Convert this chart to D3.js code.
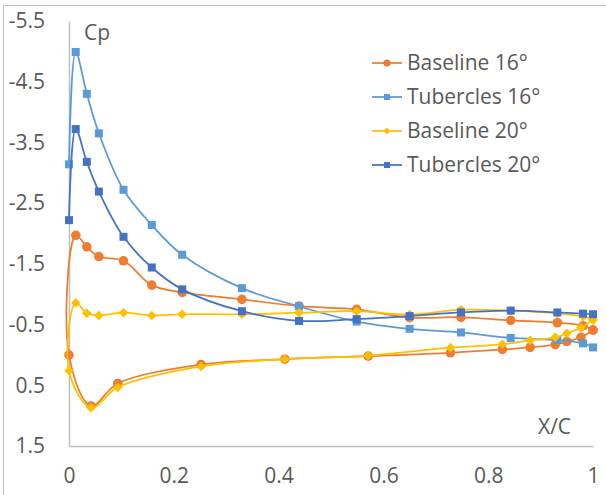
<!DOCTYPE html>
<html>
<head>
<meta charset="utf-8">
<script src="https://cdn.jsdelivr.net/npm/d3@7"></script>
<style>
  html, body { margin: 0; padding: 0; background: #fff; }
  svg { display: block; }
  text { font-family: "Open Sans", "Liberation Sans", sans-serif; fill: #595959; }
</style>
</head>
<body>
<svg id="chart" width="606" height="495"></svg>
<script>
// ---- data ----
const seriesNames = ["Baseline 16°", "Tubercles 16°", "Baseline 20°", "Tubercles 20°"];
const seriesColors = ["#ED7D31", "#5B9BD5", "#FFC000", "#4472C4"];
const seriesMarkers = ["circle", "square", "diamond", "square"];

// baseline: trailing edge -> upper surface -> leading edge -> lower surface -> trailing edge
const baseX = [1, 0.981, 0.932, 0.843, 0.748, 0.65, 0.549, 0.439, 0.33, 0.216, 0.158, 0.104, 0.057, 0.034, 0.013, 0,
               0.042, 0.093, 0.252, 0.412, 0.571, 0.728, 0.827, 0.88, 0.928, 0.95, 0.977, 1];
const base16 = [-0.41, -0.48, -0.53, -0.57, -0.62, -0.615, -0.75, -0.805, -0.915, -1.03, -1.15, -1.55, -1.62, -1.78, -1.97, 0.00,
                0.84, 0.47, 0.16, 0.07, 0.02, -0.035, -0.09, -0.125, -0.17, -0.22, -0.29, -0.41];
const base20 = [-0.575, -0.63, -0.685, -0.73, -0.745, -0.665, -0.72, -0.695, -0.67, -0.67, -0.65, -0.695, -0.65, -0.685, -0.86, 0.26,
                0.87, 0.535, 0.19, 0.07, 0.01, -0.12, -0.175, -0.24, -0.29, -0.355, -0.45, -0.575];

const tuberX = [0, 0.0128, 0.034, 0.057, 0.104, 0.158, 0.216, 0.33, 0.439, 0.549, 0.65, 0.748, 0.843, 0.932, 0.981, 1];
const tub16 = [-3.14, -4.99, -4.30, -3.65, -2.72, -2.14, -1.65, -1.10, -0.80, -0.55, -0.43, -0.37, -0.28, -0.245, -0.19, -0.124];
const tub20 = [-2.22, -3.72, -3.18, -2.69, -1.945, -1.44, -1.08, -0.72, -0.56, -0.59, -0.64, -0.70, -0.73, -0.70, -0.68, -0.67];

const xTicks = [0, 0.2, 0.4, 0.6, 0.8, 1];
const yTicks = [-5.5, -4.5, -3.5, -2.5, -1.5, -0.5, 0.5, 1.5];
const xTitle = "X/C";
const yTitle = "Cp";

// ---- layout ----
const svg = d3.select("#chart");
const L = 69, R = 593, T = 21, B = 446;
const FS = 21;

const x = d3.scaleLinear().domain([0, 1]).range([L, R]);
const y = d3.scaleLinear().domain([-5.5, 1.5]).range([T, B]);

// outer chart border
svg.append("rect").attr("x", 3.5).attr("y", 5.5).attr("width", 700).attr("height", 700)
  .attr("fill", "none").attr("stroke", "#BFBFBF").attr("stroke-width", 1);

// axes
const xAxis = d3.axisBottom(x).tickValues(xTicks).tickSize(0).tickPadding(22)
  .tickFormat(d => d3.format("")(d));
const gx = svg.append("g").attr("transform", `translate(0,${B})`).call(xAxis);
gx.select(".domain").attr("stroke", "#BFBFBF").attr("stroke-width", 1.5);
gx.selectAll("text").attr("font-size", FS).attr("fill", "#595959")
  .attr("font-family", "Open Sans, Liberation Sans, sans-serif");

const yAxis = d3.axisLeft(y).tickValues(yTicks).tickSize(0).tickPadding(24)
  .tickFormat(d => d3.format(".1f")(d).replace("−", "-"));
const gy = svg.append("g").attr("transform", `translate(${L},0)`).call(yAxis);
gy.select(".domain").attr("stroke", "#BFBFBF").attr("stroke-width", 1.5);
gy.selectAll("text").attr("font-size", FS).attr("fill", "#595959")
  .attr("font-family", "Open Sans, Liberation Sans, sans-serif");

// axis titles
svg.append("text").attr("x", 84).attr("y", 40).attr("font-size", FS).text(yTitle);
svg.append("text").attr("x", 538).attr("y", 434).attr("font-size", FS).text(xTitle);

// series
const seriesData = [
  baseX.map((d, i) => [d, base16[i]]),
  tuberX.map((d, i) => [d, tub16[i]]),
  baseX.map((d, i) => [d, base20[i]]),
  tuberX.map((d, i) => [d, tub20[i]])
];

const line = d3.line().x(d => x(d[0])).y(d => y(d[1])).curve(d3.curveCatmullRom.alpha(0.5));

function drawMarker(g, type, cx, cy, color, size) {
  if (type === "circle") {
    g.append("circle").attr("cx", cx).attr("cy", cy).attr("r", size * 0.6).attr("fill", color);
  } else if (type === "square") {
    g.append("rect").attr("x", cx - size / 2).attr("y", cy - size / 2)
      .attr("width", size).attr("height", size).attr("fill", color);
  } else {
    const s = size * 0.6;
    g.append("path").attr("d", `M${cx},${cy - s}L${cx + s},${cy}L${cx},${cy + s}L${cx - s},${cy}Z`).attr("fill", color);
  }
}

seriesData.forEach((data, si) => {
  const g = svg.append("g");
  g.append("path").datum(data).attr("d", line).attr("fill", "none")
    .attr("stroke", seriesColors[si]).attr("stroke-width", 1.75);
  data.forEach(d => drawMarker(g, seriesMarkers[si], x(d[0]), y(d[1]), seriesColors[si], 8));
});

// legend
const legY0 = 63, legDy = 34;
seriesNames.forEach((name, i) => {
  const g = svg.append("g").attr("transform", `translate(0,${legY0 + i * legDy})`);
  g.append("line").attr("x1", 372).attr("x2", 402).attr("y1", 0).attr("y2", 0)
    .attr("stroke", seriesColors[i]).attr("stroke-width", 1.75);
  drawMarker(g, seriesMarkers[i], 387, 0, seriesColors[i], 6);
  g.append("text").attr("x", 407).attr("y", 0).attr("dy", "0.35em").attr("font-size", FS).text(name);
});
</script>
</body>
</html>
